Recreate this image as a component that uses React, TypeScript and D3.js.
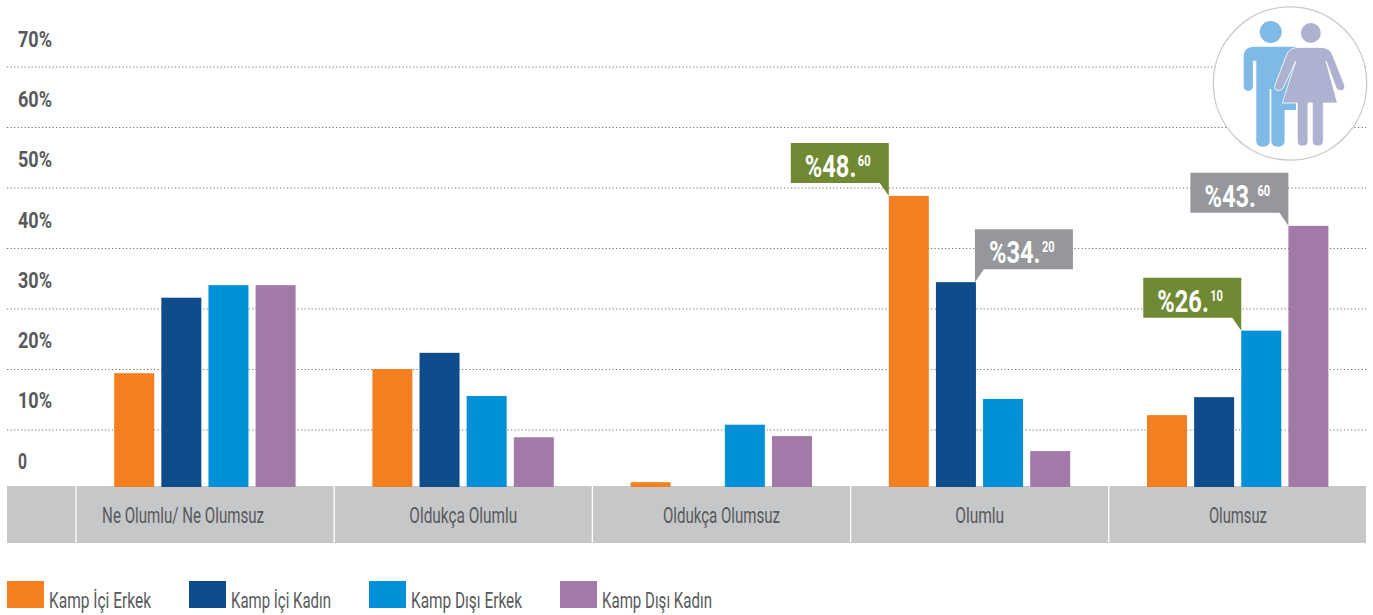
import React from "react";
import * as d3 from "d3";

const categories = ["Ne Olumlu/ Ne Olumsuz", "Oldukça Olumlu", "Oldukça Olumsuz", "Olumlu", "Olumsuz"];
const seriesNames = ["Kamp İçi Erkek", "Kamp İçi Kadın", "Kamp Dışı Erkek", "Kamp Dışı Kadın"];
const kampIciErkek = [19.0, 19.7, 0.8, 48.6, 12.0];
const kampIciKadin = [31.6, 22.4, 0, 34.2, 15.0];
const kampDisiErkek = [33.7, 15.2, 10.4, 14.7, 26.1];
const kampDisiKadin = [33.7, 8.3, 8.5, 6.0, 43.6];
const series = [kampIciErkek, kampIciKadin, kampDisiErkek, kampDisiKadin];
const seriesColors = ["#f37f21", "#0e4c8b", "#0090d7", "#a27aa8"];
const yTicks = [70, 60, 50, 40, 30, 20, 10, 0];
const gridValues = [70, 60, 50, 40, 30, 20, 10];
const callouts = [
  { cat: 3, ser: 0, whole: "%48.", frac: "60", color: "#6f8a33", side: "left" },
  { cat: 3, ser: 1, whole: "%34.", frac: "20", color: "#96979a", side: "right" },
  { cat: 4, ser: 2, whole: "%26.", frac: "10", color: "#6f8a33", side: "left" },
  { cat: 4, ser: 3, whole: "%43.", frac: "60", color: "#96979a", side: "left" },
];

const W = 1373, H = 615;
const FONT = "Roboto, 'Liberation Sans', sans-serif";
const TEXT = "#58595b";
const y = d3.scaleLinear().domain([0, 70]).range([487, 67.7]);
const yGrid = d3.scaleLinear().domain([10, 70]).range([430, 67]);
const yLabel = d3.scaleLinear().domain([0, 70]).range([468.5, 47]);
const x0 = d3.scaleBand<number>().domain(d3.range(categories.length)).range([76, 1367]);
const x1 = d3.scalePoint<number>().domain(d3.range(4)).range([38.2, 179.6]);
const barX = (c: number, s: number) => (x0(c) as number) + (x1(s) as number);
const BAR_W = 40;
const labelShift = [-22, 0, 0, 0, 0];
const labelWidths = [162, 108, 117, 49, 58];
const legendX = [7, 189, 369, 560];
const legendWidths = [102, 100, 111, 110];

function Callout({ c }: { c: (typeof callouts)[number] }) {
  const bx = barX(c.cat, c.ser);
  const top = y(series[c.ser][c.cat]);
  const tipX = c.side === "left" ? bx : bx + BAR_W;
  const boxL = c.side === "left" ? tipX - 98 : tipX - 1;
  const boxR = boxL + 98;
  const boxB = top - 13;
  const boxT = boxB - 40;
  const d = c.side === "left"
    ? `M${boxL},${boxT}H${boxR}V${top}L${boxR - 9},${boxB}H${boxL}Z`
    : `M${boxL},${boxT}H${boxR}V${boxB}H${boxL + 9}L${boxL},${top}Z`;
  return (
    <g>
      <path d={d} fill={c.color} />
      <text transform={`translate(${boxL + 14},${boxT + 34}) scale(0.74,1)`} fontFamily={FONT} fontWeight={700} fontSize={32} fill="#fff">
        {c.whole}
        <tspan dy={-11} dx={2} fontSize={15}>{c.frac}</tspan>
      </text>
    </g>
  );
}

function Icon() {
  return (
    <g>
      <circle cx={1290} cy={83.5} r={76.7} fill="#fff" stroke="#c8c9cb" strokeWidth={1.3} />
      <circle cx={1270.7} cy={32} r={11} fill="#7fb9e6" />
      <path
        fill="#7fb9e6"
        d="M1243.7,57 Q1243.7,46.7 1254,46.7 H1296 V110 H1284.6 V141 Q1284.6,146.7 1278,146.7 Q1271.3,146.7 1271.3,141 V89 H1269.7 V141 Q1269.7,146.7 1263,146.7 Q1256.3,146.7 1256.3,141 V60.7 H1252.9 V86 Q1252.9,90.7 1248.3,90.7 Q1243.7,90.7 1243.7,86 Z"
      />
      <circle cx={1310.8} cy={33} r={10} fill="#aeb2d1" />
      <path
        fill="#aeb2d1"
        stroke="#fff"
        strokeWidth={0.8}
        d="M1298,47.4 H1321 Q1330,47.4 1333,56 L1344.5,85 Q1345.5,89 1342,90.7 Q1338,91.5 1336,87.5 L1326,61 L1337.4,103 H1323.3 V141 Q1323.3,146 1318,146 Q1312.3,146 1312.3,141 V103 H1308 V141 Q1308,146 1302.7,146 Q1297.3,146 1297.3,141 V103 H1282.3 L1295.8,61 L1283,88.5 Q1280,91.5 1276.5,90.3 Q1273.5,88 1275,85 L1286,56 Q1289.5,47.4 1298,47.4 Z"
      />
    </g>
  );
}

export default function App() {
  return (
    <svg width={W} height={H} viewBox={`0 0 ${W} ${H}`} style={{ position: "absolute", left: 0, top: 0, background: "#fff" }}>
      {gridValues.map((v) => (
        <line key={v} x1={7} x2={1366} y1={yGrid(v)} y2={yGrid(v)} stroke="#6d6e71" strokeWidth={1} strokeDasharray="1.2 2.3" />
      ))}
      {yTicks.map((v) => (
        <text key={v} x={18} y={yLabel(v)} fontFamily={FONT} fontWeight={700} fontSize={22} fill={TEXT}
          textLength={v === 0 ? 9 : 34} lengthAdjust="spacingAndGlyphs">
          {v === 0 ? "0" : `${v}%`}
        </text>
      ))}
      <rect x={7} y={486} width={1359} height={57} fill="#c6c7c9" />
      {[76, ...categories.map((_, i) => (x0(i) as number) + x0.bandwidth())].slice(0, 5).map((sx) => (
        <line key={sx} x1={sx} x2={sx} y1={486} y2={543} stroke="#fff" strokeWidth={1.3} />
      ))}
      {categories.map((c, i) => (
        <text key={c} x={(x0(i) as number) + x0.bandwidth() / 2 + labelShift[i]} y={523} textAnchor="middle" fontFamily={FONT} fontSize={22} fill={TEXT}
          textLength={labelWidths[i]} lengthAdjust="spacingAndGlyphs">
          {c}
        </text>
      ))}
      {series.map((vals, s) =>
        vals.map((v, c) =>
          v > 0 ? <rect key={`${s}-${c}`} x={barX(c, s)} y={y(v)} width={BAR_W} height={y(0) - y(v)} fill={seriesColors[s]} /> : null
        )
      )}
      <Icon />
      {callouts.map((c, i) => <Callout key={i} c={c} />)}
      {seriesNames.map((n, i) => (
        <g key={n}>
          <rect x={legendX[i]} y={581} width={37} height={27} fill={seriesColors[i]} />
          <text x={legendX[i] + 42} y={608} fontFamily={FONT} fontSize={22} fill={TEXT}
            textLength={legendWidths[i]} lengthAdjust="spacingAndGlyphs">{n}</text>
        </g>
      ))}
    </svg>
  );
}
